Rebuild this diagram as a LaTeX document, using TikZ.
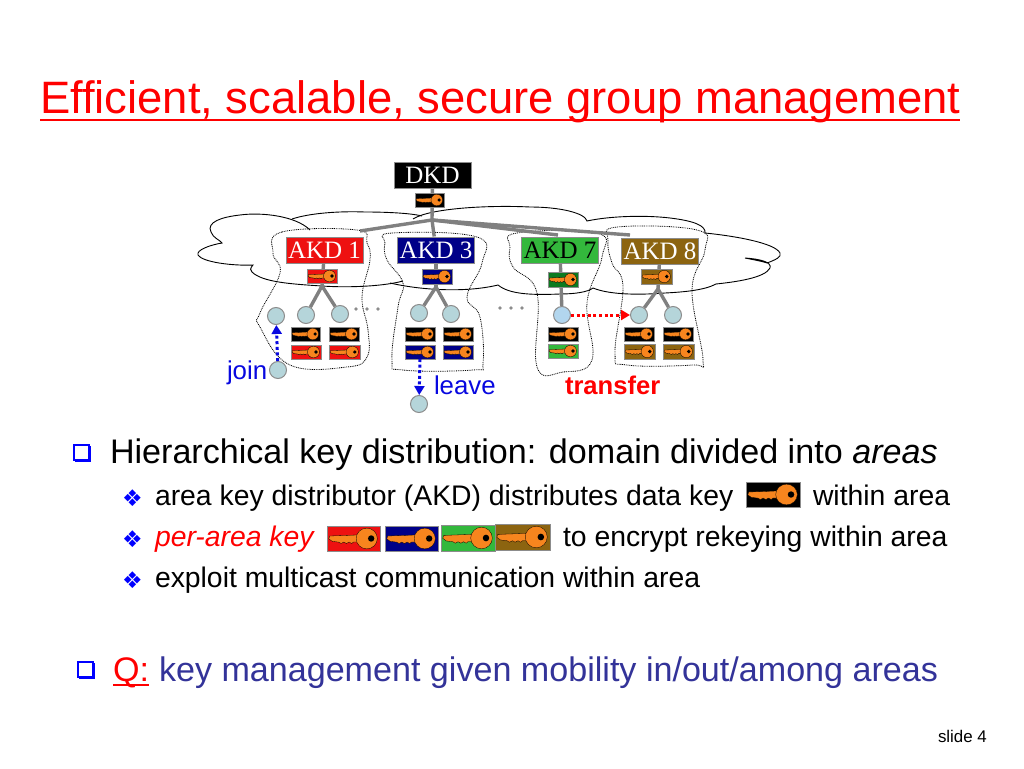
\documentclass[tikz,border=0pt]{standalone}
\usepackage{fontspec}
\setmainfont{Liberation Sans}
\newfontfamily\serifz{Liberation Serif}
\newfontfamily\dejaz{DejaVu Sans}
\usetikzlibrary{arrows.meta}
\definecolor{keyorange}{HTML}{F7851E}
\definecolor{akdred}{HTML}{EE1111}
\definecolor{akdblue}{HTML}{000088}
\definecolor{akdgreen}{HTML}{33B83C}
\definecolor{akddkgreen}{HTML}{0C7A20}
\definecolor{akdbrown}{HTML}{8C6410}
\definecolor{member}{HTML}{B5D5DA}
\definecolor{memberb}{HTML}{B2D6EE}
\definecolor{slateblue}{HTML}{333399}
\definecolor{framegray}{HTML}{8C8C8C}
\definecolor{moveblue}{HTML}{0808E0}
\tikzset{
  keyframe/.style={draw=framegray,line width=0.9pt,inner sep=0pt,outer sep=0pt},
  akdbox/.style={draw=framegray,line width=1pt,inner sep=0pt,minimum width=77pt,minimum height=26pt,font=\serifz\fontsize{25}{25}\selectfont},
  memberdot/.style={circle,draw=framegray,line width=1pt,fill=member,minimum size=17pt,inner sep=0pt},
  tree/.style={draw=black!50,line width=3.4pt},
  cloudline/.style={draw=black,line width=0.9pt},
  arealine/.style={draw=black,line width=0.8pt,dash pattern=on 0.9pt off 0.9pt,smooth cycle,tension=0.7},
  move/.style={line width=3pt,dash pattern=on 3pt off 2.6pt,-{Triangle[length=9pt,width=10pt]}},
  txt/.style={anchor=base west,inner sep=0pt,outer sep=0pt},
  gap/.style={circle,fill=black!45,inner sep=0pt,minimum size=3.8pt},
  sqbullet/.style={draw=blue,line width=1.6pt,inner sep=0pt,minimum size=15pt,fill=white},
  diabullet/.style={txt,text=blue,font=\dejaz\fontsize{23}{23}\selectfont}
}
\newcommand{\keybox}[6]{%
  \pgfmathsetmacro{\kw}{#4-#2}\pgfmathsetmacro{\kh}{#5-#3}%
  \pgfmathsetmacro{\kcx}{(#2+#4)/2}\pgfmathsetmacro{\kcy}{(#3+#5)/2}%
  \pgfmathsetmacro{\ksx}{\kw/30}\pgfmathsetmacro{\ksy}{\kh/14}%
  \node[keyframe,fill=#6,minimum width=\kw pt,minimum height=\kh pt] (#1) at (\kcx,\kcy) {};
  \begin{scope}[shift={(\kcx,\kcy)},xscale=\ksx,yscale=\ksy]
    \filldraw[fill=keyorange,draw=black,line width=0.3pt]
      (-13.5,-1.4) -- (3,-2) -- (3,2) -- (0,2) -- (-1,2.8) -- (-2.5,2) -- (-4,2.8) -- (-5.5,2) -- (-7,2.8) -- (-8.5,2) -- (-12,1.6) -- (-14,0.2) -- cycle;
    \filldraw[fill=keyorange,draw=black,line width=0.3pt] (7.5,0) ellipse [x radius=6,y radius=5.8];
    \fill[black] (10,0) circle [radius=1.8];
  \end{scope}
}
\newcommand{\sqmark}[3]{%
  \fill[blue] (#2-6.5,#3-6.5) rectangle (#2+9.5,#3+9.5);
  \node[sqbullet] (#1) at (#2,#3) {};
}
\begin{document}
\begin{tikzpicture}[x=1pt,y=-1pt]
\useasboundingbox (0,0) rectangle (1024,768);
\fill[white] (0,0) rectangle (1024,768);

% title
\node[txt,text=red,font=\fontsize{45.4}{45.4}\selectfont] (title) at (40,113) {Efficient, scalable, secure group management};
\draw[red,line width=2.6pt] (title.base west)++(0,7) -- ([yshift=-7pt]title.base east);

% cloud
\draw[cloudline] (310,230) .. controls (296,216) and (262,212) .. (240,215) .. controls (222,217) and (206,222) .. (211,232) .. controls (213,238) and (220,240) .. (222,243) .. controls (210,245) and (196,250) .. (198,255) .. controls (202,262) and (232,266) .. (253,265) .. controls (250,268) and (250,271) .. (252,272) .. controls (262,282) and (290,284) .. (322,286) .. controls (350,288) and (385,286) .. (403,281);
\draw[cloudline] (390,283) .. controls (420,290) and (465,293) .. (498,285) .. controls (510,295) and (535,295) .. (560,294) .. controls (575,294) and (588,292) .. (593,288) .. controls (610,295) and (640,295) .. (665,293) .. controls (685,292) and (705,290) .. (716,284) .. controls (735,282) and (765,278) .. (770,268) .. controls (772,262) and (760,259) .. (745,258) .. controls (755,260) and (765,262) .. (767,263) .. controls (775,260) and (782,257) .. (780,253) .. controls (775,243) and (735,236) .. (705,233) .. controls (706,226) and (695,221) .. (670,218) .. controls (645,215) and (610,216) .. (587,221) .. controls (585,213) and (560,207) .. (530,207) .. controls (490,205) and (430,208) .. (413,219);
\draw[cloudline] (292,219) .. controls (310,213) and (340,211) .. (365,212) .. controls (385,212) and (410,213) .. (422,216);

% areas
\draw[arealine] plot coordinates {(273,253)(282,232)(357,230)(367,243)(370,260)(362,297)(368,330)(367,357)(347,367)(290,365)(260,327)(260,313)(280,273)};
\draw[arealine] plot coordinates {(385,243)(392,233)(477,237)(482,263)(467,297)(480,317)(483,363)(473,370)(403,370)(392,360)(398,307)(403,283)(387,260)};
\draw[arealine] plot coordinates {(510,247)(517,233)(597,233)(602,257)(587,303)(592,360)(563,372)(537,367)(537,293)(513,267)};
\draw[arealine] plot coordinates {(608,240)(617,227)(697,230)(705,250)(692,290)(703,360)(693,365)(627,365)(615,353)(623,287)(612,263)};

% coordinates of the tree's branching points
\coordinate (jd) at (432,220);
\coordinate (j1) at (322,286);
\coordinate (j3) at (436,287);
\coordinate (j8) at (658,289);
\coordinate (t1) at (360,231);
\coordinate (t7) at (558,235);
\coordinate (t8) at (630,235);

% boxes
\node[akdbox,fill=black,text=white] (dkd) at (432.5,175.5) {DKD};
\node[akdbox,fill=akdred,text=white] (akd1) at (324.5,250) {AKD 1};
\node[akdbox,fill=akdblue,text=white] (akd3) at (436,250) {AKD 3};
\node[akdbox,fill=akdgreen,text=black] (akd7) at (560,250.5) {AKD 7};
\node[akdbox,fill=akdbrown,text=white] (akd8) at (660,251) {AKD 8};

% members
\node[memberdot] (c11) at (276,316) {};
\node[memberdot] (c12) at (306,315) {};
\node[memberdot] (c13) at (340,314) {};
\node[memberdot] (c31) at (419,313) {};
\node[memberdot] (c32) at (451,314) {};
\node[memberdot,fill=memberb] (c71) at (562,315) {};
\node[memberdot] (c81) at (639,315) {};
\node[memberdot] (c82) at (673,315) {};
\node[memberdot] (cjoin) at (278,370) {};
\node[memberdot] (cleave) at (419,404) {};

% tree connectors (under the keys)
\draw[tree] (dkd) -- (jd);
\draw[tree] (jd) -- (t1);
\draw[tree] (jd) -- (akd3);
\draw[tree] (jd) -- (t7);
\draw[tree] (jd) -- (t8);
\draw[tree] (akd1) -- (j1);
\draw[tree] (j1) -- (c12);
\draw[tree] (j1) -- (c13);
\draw[tree] (akd3) -- (j3);
\draw[tree] (j3) -- (c31);
\draw[tree] (j3) -- (c32);
\draw[tree] (akd7) -- (c71);
\draw[tree] (akd8) -- (j8);
\draw[tree] (j8) -- (c81);
\draw[tree] (j8) -- (c82);

% keys
\keybox{kd}{415}{193}{444}{207}{black}
\keybox{k1}{307}{269}{337}{283}{akdred}
\keybox{k3}{422}{269}{452}{284}{akdblue}
\keybox{k7}{548}{272}{578}{287}{akddkgreen}
\keybox{k8}{641}{269}{672}{284}{akdbrown}
\keybox{m1a}{291}{327}{320}{341}{black}
\keybox{m1b}{329}{327}{359}{341}{black}
\keybox{m1c}{291}{345}{321}{359}{akdred}
\keybox{m1d}{329}{345}{360}{359}{akdred}
\keybox{m3a}{405}{327}{435}{341}{black}
\keybox{m3b}{443}{327}{473}{341}{black}
\keybox{m3c}{405}{345}{435}{359}{akdblue}
\keybox{m3d}{443}{345}{473}{359}{akdblue}
\keybox{m7a}{548}{327}{578}{341}{black}
\keybox{m7b}{548}{344}{578}{358}{akdgreen}
\keybox{m8a}{624}{327}{654}{341}{black}
\keybox{m8b}{663}{327}{693}{341}{black}
\keybox{m8c}{624}{344}{655}{359}{akdbrown}
\keybox{m8d}{663}{344}{694}{359}{akdbrown}

% ellipsis dots
\node[gap] (g1) at (356,309) {};
\node[gap] (g2) at (367,309) {};
\node[gap] (g3) at (378,309) {};
\node[gap] (g4) at (500,308) {};
\node[gap] (g5) at (511,308) {};
\node[gap] (g6) at (522,308) {};

% moves
\draw[move,moveblue] (cjoin) -- (c11);
\draw[move,moveblue] (m3c.south) -- (cleave);
\draw[move,red] (c71) -- (c81);

\node[txt,text=moveblue,font=\fontsize{25.8}{25.8}\selectfont] (joinl) at (227,379) {join};
\node[txt,text=moveblue,font=\fontsize{25.8}{25.8}\selectfont] (leavel) at (434,394) {leave};
\node[txt,text=red,font=\bfseries\fontsize{25.6}{25.6}\selectfont] (transferl) at (565,394) {transfer};

% text
\sqmark{b1}{81.5}{452.5}
\node[txt,font=\fontsize{34.1}{34.1}\selectfont] (l1) at (110,463) {Hierarchical key distribution: domain divided into \textit{areas}};
\node[diabullet] (b2) at (122,506) {❖};
\node[txt,font=\fontsize{28.35}{28.35}\selectfont] (l2) at (155,505) {area key distributor (AKD) distributes data key};
\keybox{bk0}{746}{482}{800}{507}{black}
\node[txt,font=\fontsize{28.35}{28.35}\selectfont] (l2b) at (813,505) {within area};
\node[diabullet] (b3) at (122,547) {❖};
\node[txt,text=red,font=\itshape\fontsize{28.35}{28.35}\selectfont] (l3) at (155,546) {per-area key};
\keybox{bk1}{327}{526}{380}{551}{akdred}
\keybox{bk2}{385}{526}{438}{551}{akdblue}
\keybox{bk3}{441}{525}{495}{551}{akdgreen}
\keybox{bk4}{495}{524}{550}{550}{akdbrown}
\node[txt,font=\fontsize{28.35}{28.35}\selectfont] (l3b) at (563,546) {to encrypt rekeying within area};
\node[diabullet] (b4) at (122,588) {❖};
\node[txt,font=\fontsize{28.35}{28.35}\selectfont] (l4) at (155,587) {exploit multicast communication within area};
\sqmark{b5}{85.5}{669.5}
\node[txt,text=red,font=\fontsize{34.1}{34.1}\selectfont] (q) at (113,681) {Q:};
\draw[red,line width=1.6pt] (q.base west)++(0,4) -- ([yshift=-4pt]q.base east);
\node[txt,text=slateblue,font=\fontsize{34.1}{34.1}\selectfont] (l5) at (159,681) {key management given mobility in/out/among areas};
\node[txt,font=\fontsize{16.9}{16.9}\selectfont] (pg) at (938,742) {slide 4};
\end{tikzpicture}
\end{document}
